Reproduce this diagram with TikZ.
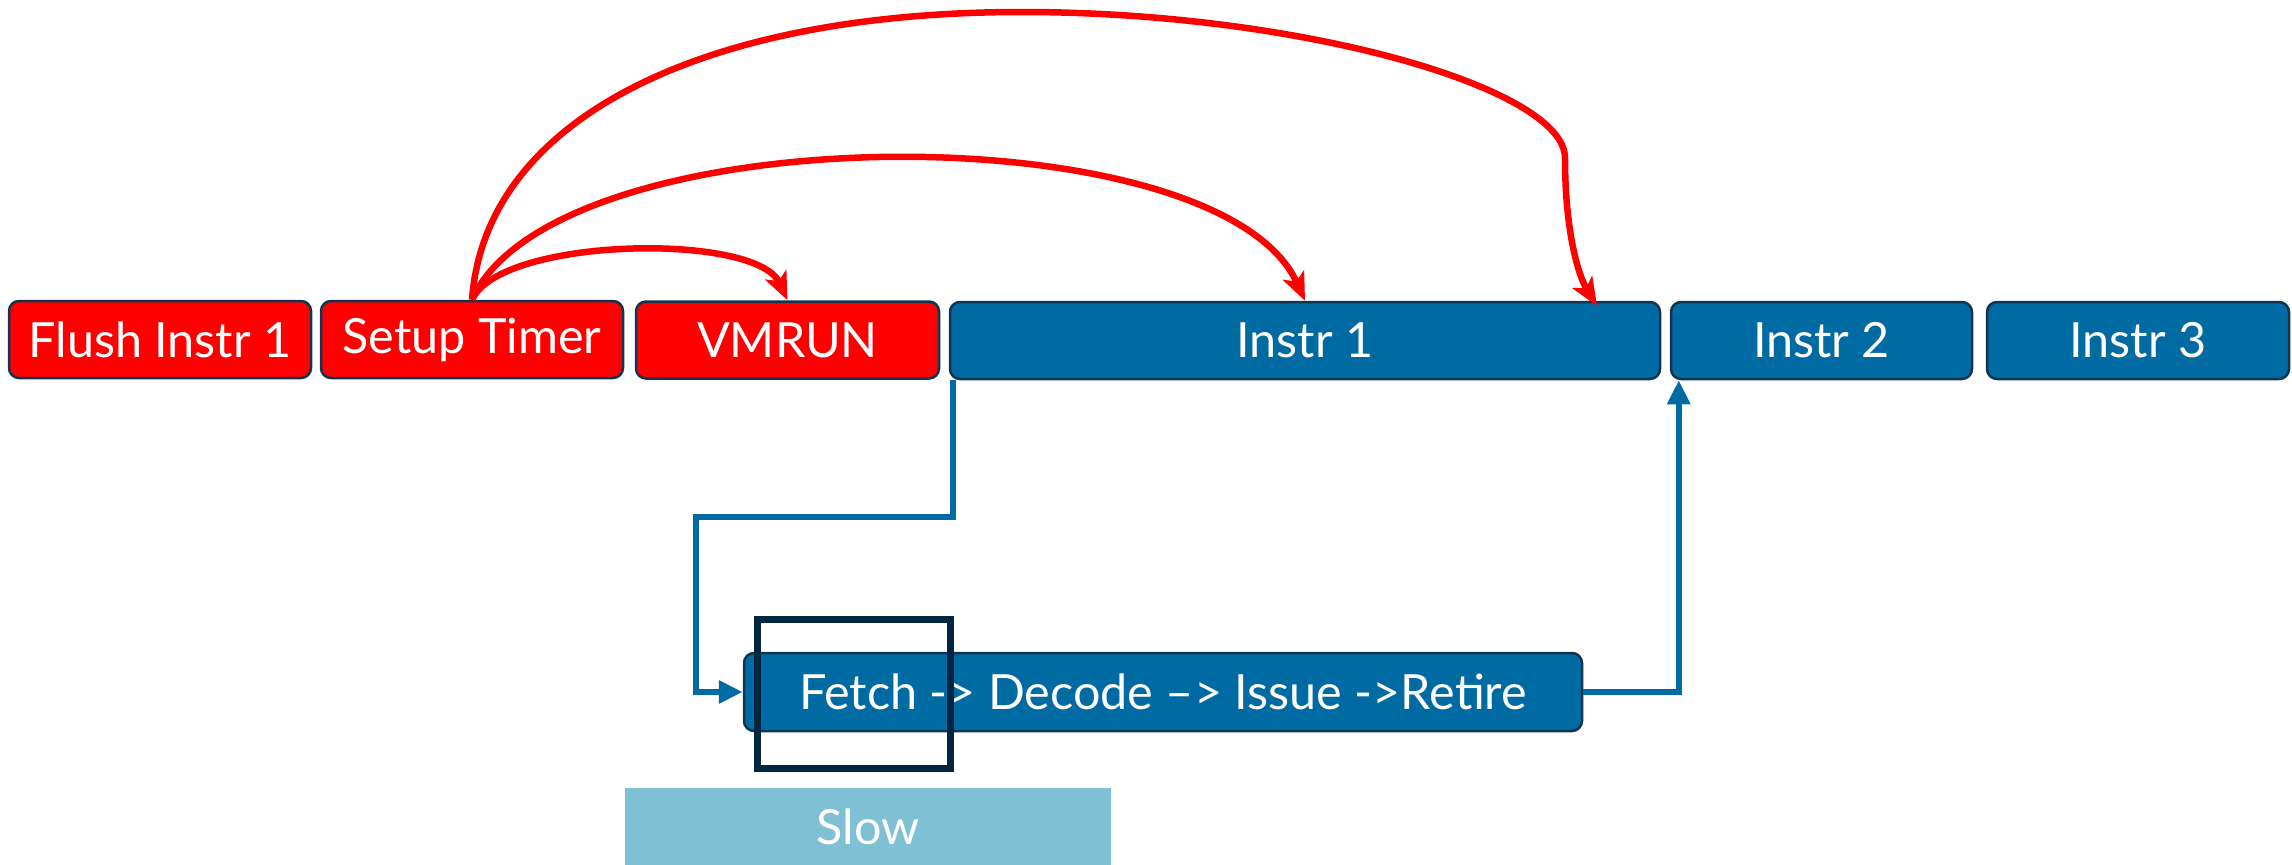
\documentclass[tikz,border=0pt]{standalone}
\usepackage{fontspec}
\setmainfont{Lato}
\usetikzlibrary{arrows.meta,calc}
\definecolor{boxred}{HTML}{FF0000}
\definecolor{boxblue}{HTML}{006BA3}
\definecolor{edge}{HTML}{12344F}
\definecolor{slowblue}{HTML}{80C0D4}
\definecolor{framecol}{HTML}{02263F}

\begin{document}
\begin{tikzpicture}[x=0.1mm,y=-0.1mm,
  instr/.style={draw=edge, line width=0.25mm, rounded corners=1mm,
    minimum height=7.7mm, inner sep=0pt, text=white,
    font=\fontsize{13.8}{16}\selectfont},
  redbox/.style={instr, fill=boxred},
  bluebox/.style={instr, fill=boxblue},
  flow/.style={draw=boxblue, line width=0.65mm,
    -{Triangle[length=2.4mm,width=2.2mm]}},
  jump/.style={draw=boxred, line width=0.65mm,
    -{Stealth[length=2.8mm,width=2.3mm,inset=0.7mm]}},
  focusbox/.style={draw=framecol, line width=0.7mm, inner sep=0pt},
  slowbox/.style={fill=slowblue, inner sep=0pt, text=white,
    font=\fontsize{13.8}{16}\selectfont}]

\useasboundingbox (0,0) rectangle (2292,865);

% instruction stream
\node[redbox, minimum width=30.2mm] (flush) at (160,339.5) {Flush Instr 1};
\node[redbox, minimum width=30.2mm] (setup) at (472,339.5) {Setup Timer};
\node[redbox, minimum width=30.3mm] (vmrun) at (787.5,340) {VMRUN};
\node[bluebox, minimum width=71mm] (i1) at (1305,340.5) {Instr 1};
\node[bluebox, minimum width=30.1mm] (i2) at (1821.5,340.5) {Instr 2};
\node[bluebox, minimum width=30.2mm] (i3) at (2138,340.5) {Instr 3};

% pipeline of Instr 1
\node[slowbox, minimum width=48.6mm, minimum height=7.7mm] (slow) at (868,826.5) {Slow};
\node[bluebox, minimum width=83.8mm, minimum height=7.8mm] (pipe) at (1163,692)
  {Fetch -> Decode –> Issue ->Retire};
\node[focusbox, minimum width=19.3mm, minimum height=14.9mm] (focus) at (854,694) {};

% flow into and out of the pipeline
\coordinate (k1) at (696,517);
\draw[flow] ([xshift=0.4mm]i1.south west) |- (k1) |- (pipe.west);
\draw[flow] (pipe.east) -| ([xshift=0.9mm]i2.south west);

% jumps from the timer setup
\draw[jump] (setup.north) .. controls (500,237) and (756,232) .. (vmrun.north);
\draw[jump] (setup.north) .. controls (555,114) and (1219,110) .. (i1.north);
\coordinate (c1) at (1022,12);
\coordinate (c2) at (1565,158);
\coordinate (c3) at (1597,306);
\draw[jump] (setup.north) .. controls (485,120) and (700,12) .. (c1)
  .. controls (1300,12) and (1565,88) .. (c2)
  .. controls (1565,230) and (1578,275) .. (c3);
\end{tikzpicture}
\end{document}
